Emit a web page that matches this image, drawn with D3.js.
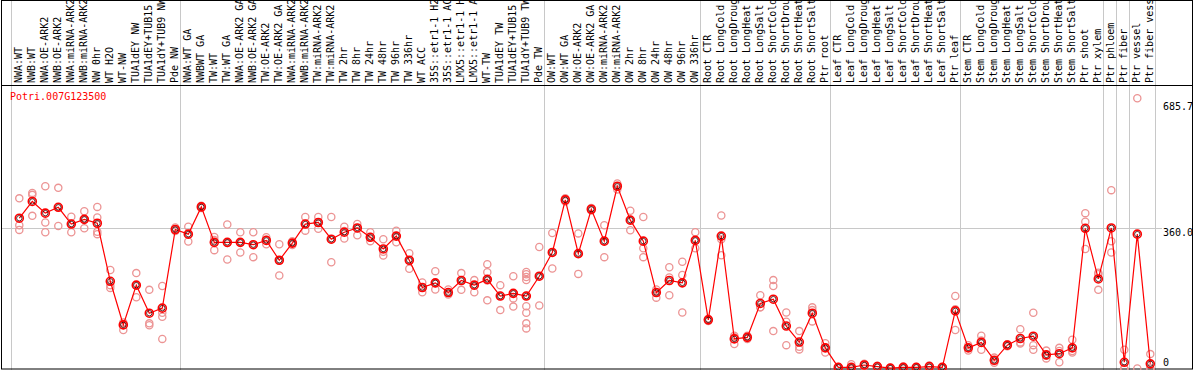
<!DOCTYPE html>
<html>
<head>
<meta charset="utf-8">
<script src="https://cdn.jsdelivr.net/npm/d3@7"></script>
<style>
  body { margin: 0; background: #fff; }
  svg { display: block; }
  text { font-family: "DejaVu Sans Mono", monospace; font-size: 10px; }
</style>
</head>
<body>
<div id="chart"></div>
<script>
const WIDTH = 1194;
const HEIGHT = 370;
const HEADER = 85;

const title = "Potri.007G123500";

const categories = [
    "NWA:WT", "NWB:WT", "NWA:OE-ARK2", "NWB:OE-ARK2", "NWA:miRNA-ARK2", "NWB:miRNA-ARK2",
    "NW 0hr", "WT H2O", "WT-NW", "TUA1dEY NW", "TUA1dEY+TUB15", "TUA1dY+TUB9 NW", "Pde NW",
    "NWA:WT GA", "NWBWT GA", "TW:WT", "TW:WT GA", "NWA:OE-ARK2 GA", "NWB:OE-ARK2 GA",
    "TW:OE-ARK2", "TW:OE-ARK2 GA", "NWA:miRNA-ARK2", "NWB:miRNA-ARK2", "TW:miRNA-ARK2",
    "TW:miRNA-ARK2", "TW 2hr", "TW 8hr", "TW 24hr", "TW 48hr", "TW 96hr", "TW 336hr",
    "WT ACC", "35S::etr1-1 H2O", "35S::etr1-1 ACC", "LMX5::etr1-1 H2O", "LMX5::etr1-1 ACC",
    "WT-TW", "TUA1dEY TW", "TUA1dEY+TUB15", "TUA1dY+TUB9 TW", "Pde TW",
    "OW:WT", "OW:WT GA", "OW:OE-ARK2", "OW:OE-ARK2 GA", "OW:miRNA-ARK2", "OW:miRNA-ARK2",
    "OW 2hr", "OW 8hr", "OW 24hr", "OW 48hr", "OW 96hr", "OW 336hr",
    "Root CTR", "Root LongCold", "Root LongDrought", "Root LongHeat", "Root LongSalt",
    "Root ShortCold", "Root ShortDrought", "Root ShortHeat", "Root ShortSalt", "Ptr root",
    "Leaf CTR", "Leaf LongCold", "Leaf LongDrought", "Leaf LongHeat", "Leaf LongSalt",
    "Leaf ShortCold", "Leaf ShortDrought", "Leaf ShortHeat", "Leaf ShortSalt", "Ptr leaf",
    "Stem CTR", "Stem LongCold", "Stem LongDrought", "Stem LongHeat", "Stem LongSalt",
    "Stem ShortCold", "Stem ShortDrought", "Stem ShortHeat", "Stem ShortSalt",
    "Ptr shoot", "Ptr xylem", "Ptr phloem", "Ptr fiber", "Ptr vessel", "Ptr fiber vessel"
];

const means = [
    386, 429, 399, 414, 371, 383, 373, 224, 112, 214, 142, 155, 357,
    345, 415, 324, 324, 324, 318, 329, 278, 322, 371, 375, 332, 350, 361, 337, 307, 340, 278,
    208, 220, 195, 226, 214, 229, 186, 193, 186, 237,
    298, 433, 295, 409, 327, 468, 381, 327, 195, 226, 220, 329,
    125, 340, 76, 80, 167, 178, 109, 68, 142, 53,
    3, 3, 9, 5, 1, 3, 3, 5, 3, 148,
    53, 67, 21, 60, 77, 83, 35, 38, 53,
    360, 230, 361, 16, 345, 12
];

const replicates = [
    [437, 368, 356], [451, 446, 392], [468, 375, 350], [464, 414, 366], [390, 371, 350],
    [404, 383, 360], [415, 388, 351, 345], [253, 214, 207], [118, 112, 99], [245, 214, 183],
    [202, 116, 111], [212, 143, 133, 76], [362, 357, 353],
    [364, 345, 326], [418, 415, 412], [338, 330, 304], [370, 322, 280], [350, 324, 298],
    [350, 318, 286], [337, 330, 319], [319, 278, 239], [327, 322, 317], [389, 371, 354],
    [389, 375, 359], [389, 332, 273], [364, 353, 334], [371, 361, 342], [350, 337, 327],
    [332, 300, 290], [354, 340, 324], [296, 278, 256],
    [221, 208, 196], [250, 219, 203], [203, 195, 190], [245, 226, 202], [227, 214, 196],
    [268, 247, 226, 175], [214, 186, 150], [237, 193, 180, 159],
    [248, 242, 235, 227, 186, 160, 143, 116, 103], [312, 237, 162],
    [348, 298, 257], [437, 433, 429], [347, 295, 243], [412, 409, 406], [368, 327, 286],
    [475, 468, 460], [405, 381, 355], [389, 309, 286], [203, 195, 182], [260, 234, 188],
    [274, 240, 144], [350, 329, 309],
    [128, 125, 122], [393, 332, 291], [84, 80, 63], [84, 80, 76], [188, 157, 157],
    [227, 212, 96], [144, 120, 60], [96, 56, 49], [157, 150, 121], [65, 53, 41],
    [4, 3, 2], [11, 0, 0], [12, 9, 6], [7, 5, 3], [1, 1, 1], [5, 3, 1], [4, 3, 2],
    [8, 5, 2], [4, 3, 2], [186, 152, 99],
    [60, 53, 46], [84, 72, 48], [28, 21, 15], [62, 60, 57], [101, 67, 64], [143, 60, 48],
    [46, 33, 26], [53, 45, 16], [74, 45, 41],
    [399, 377, 307], [246, 242, 202], [458, 327, 298], [48, 0, 0], [694, 0], [37, 0, 0]
];

// index of the first sample of each group (last entry closes the final group)
const groupStarts = [0, 13, 41, 53, 63, 73, 84, 85, 86, 88];

const yTicks = [685.7, 360.0, 0];
const gridValues = [360.0];

let x = d3.scaleLinear()
    .domain([0, categories.length - 1])
    .range([19.3, 1150.3]);

let y = d3.scaleLinear()
    .domain([0, 685.7])
    .range([368.5, 101.5]);

let svg = d3.select("#chart")
    .append("svg")
    .attr("width", WIDTH)
    .attr("height", HEIGHT);

// group separators
svg.selectAll("line.group")
    .data(groupStarts)
    .enter()
    .append("line")
    .attr("class", "group")
    .attr("x1", d => Math.round(x(d) - 8) + 0.5)
    .attr("x2", d => Math.round(x(d) - 8) + 0.5)
    .attr("y1", 0)
    .attr("y2", HEIGHT)
    .attr("stroke", "#c8c8c8")
    .attr("stroke-width", 1);

// horizontal grid
svg.selectAll("line.grid")
    .data(gridValues)
    .enter()
    .append("line")
    .attr("class", "grid")
    .attr("x1", 1)
    .attr("x2", 1162)
    .attr("y1", d => Math.round(y(d)) + 0.5)
    .attr("y2", d => Math.round(y(d)) + 0.5)
    .attr("stroke", "#c8c8c8")
    .attr("stroke-width", 1);

// frame
svg.append("rect")
    .attr("x", 1.5)
    .attr("y", 0.5)
    .attr("width", 1191)
    .attr("height", 368.5)
    .attr("fill", "none")
    .attr("stroke", "black");

svg.append("line")
    .attr("x1", 1)
    .attr("x2", 1193)
    .attr("y1", HEADER + 0.5)
    .attr("y2", HEADER + 0.5)
    .attr("stroke", "black");

// sample labels, rotated
svg.selectAll("text.cat")
    .data(categories)
    .enter()
    .append("text")
    .attr("class", "cat")
    .attr("transform", (d, i) => `translate(${x(i) + 2.8},${HEADER - 2}) rotate(-90)`)
    .attr("fill", "black")
    .text(d => d);

// title
svg.append("text")
    .attr("x", 10)
    .attr("y", 100)
    .attr("fill", "red")
    .text(title);

// y labels on the right
svg.selectAll("text.tick")
    .data(yTicks)
    .enter()
    .append("text")
    .attr("class", "tick")
    .attr("x", 1163)
    .attr("y", d => Math.min(y(d) + 8, 366))
    .attr("fill", "black")
    .text(d => d == 0 ? "0" : d.toFixed(1));

// replicate points
let reps = [];
replicates.forEach((vals, i) => vals.forEach(v => reps.push({i: i, v: v})));

svg.selectAll("circle.rep")
    .data(reps)
    .enter()
    .append("circle")
    .attr("class", "rep")
    .attr("cx", d => x(d.i))
    .attr("cy", d => y(d.v))
    .attr("r", 3.6)
    .attr("fill", "none")
    .attr("stroke", "#ec9494")
    .attr("stroke-width", 1.3);

// mean line
let line = d3.line()
    .x((d, i) => x(i))
    .y(d => y(d));

svg.append("path")
    .datum(means)
    .attr("d", line)
    .attr("fill", "none")
    .attr("stroke", "red")
    .attr("stroke-width", 1.2);

// mean points
svg.selectAll("circle.mean")
    .data(means)
    .enter()
    .append("circle")
    .attr("class", "mean")
    .attr("cx", (d, i) => x(i))
    .attr("cy", d => y(d))
    .attr("r", 4)
    .attr("fill", "none")
    .attr("stroke", "red")
    .attr("stroke-width", 1.6);

svg.selectAll("circle.meanin")
    .data(means)
    .enter()
    .append("circle")
    .attr("class", "meanin")
    .attr("cx", (d, i) => x(i))
    .attr("cy", d => y(d))
    .attr("r", 2.7)
    .attr("fill", "none")
    .attr("stroke", "#300")
    .attr("stroke-width", 0.8);
</script>
</body>
</html>
